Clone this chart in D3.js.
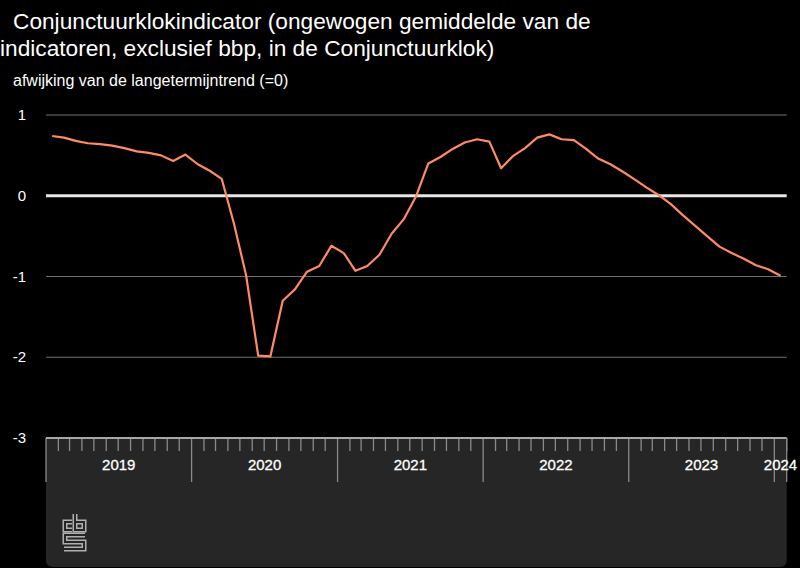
<!DOCTYPE html>
<html><head><meta charset="utf-8">
<script src="https://cdn.jsdelivr.net/npm/d3@7"></script>
<style>
html,body{margin:0;padding:0;background:#000;}
svg{display:block;font-family:"Liberation Sans",Arial,sans-serif;}
</style></head>
<body>
<svg id="chart" width="800" height="568"></svg>
<script>
// ---- data ----
const titleLines = ["Conjunctuurklokindicator (ongewogen gemiddelde van de", "indicatoren, exclusief bbp, in de Conjunctuurklok)"];
const yAxisTitle = "afwijking van de langetermijntrend (=0)";
const months = [
 "2019-01","2019-02","2019-03","2019-04","2019-05","2019-06","2019-07","2019-08","2019-09","2019-10","2019-11","2019-12",
 "2020-01","2020-02","2020-03","2020-04","2020-05","2020-06","2020-07","2020-08","2020-09","2020-10","2020-11","2020-12",
 "2021-01","2021-02","2021-03","2021-04","2021-05","2021-06","2021-07","2021-08","2021-09","2021-10","2021-11","2021-12",
 "2022-01","2022-02","2022-03","2022-04","2022-05","2022-06","2022-07","2022-08","2022-09","2022-10","2022-11","2022-12",
 "2023-01","2023-02","2023-03","2023-04","2023-05","2023-06","2023-07","2023-08","2023-09","2023-10","2023-11","2023-12",
 "2024-01"];
const values = [
 0.74, 0.72, 0.68, 0.65, 0.64, 0.62, 0.59, 0.55, 0.53, 0.50, 0.43, 0.51,
 0.39, 0.31, 0.21, -0.34, -0.98, -1.98, -1.99, -1.30, -1.16, -0.94, -0.87, -0.62,
 -0.71, -0.93, -0.87, -0.73, -0.47, -0.29, -0.01, 0.40, 0.48, 0.58, 0.66, 0.70,
 0.67, 0.34, 0.49, 0.59, 0.72, 0.76, 0.70, 0.69, 0.58, 0.46, 0.39, 0.30,
 0.20, 0.10, 0.01, -0.10, -0.24, -0.37, -0.50, -0.63, -0.71, -0.78, -0.86, -0.91,
 -0.99];
const yTicks = [1, 0, -1, -2, -3];
const yearLabels = ["2019","2020","2021","2022","2023","2024"];
const domainStart = "2019-01";
const domainEnd = "2024-02";

// ---- layout ----
const svg = d3.select("#chart");
const plotL = 46, plotR = 786.7, plotT = 115, plotB = 438;
const parse = d3.timeParse("%Y-%m");
const x = d3.scaleTime().domain([parse(domainStart), parse(domainEnd)]).range([plotL, plotR]);
const y = d3.scaleLinear().domain([-3, 1]).range([plotB, plotT]);

const data = months.map((m, i) => {
  const s = parse(m), e = d3.timeMonth.offset(s, 1);
  return {date: new Date((+s + +e) / 2), value: values[i]};
});

// title
svg.append("g").selectAll("text").data(titleLines).join("text")
  .attr("x", (d, i) => i === 0 ? 13 : 0)
  .attr("y", (d, i) => 29 + i * 26.5)
  .attr("fill", "#fff").attr("font-size", 22.7).text(d => d);
svg.append("text").attr("x", 13).attr("y", 86).attr("fill", "#fff")
  .attr("font-size", 16).text(yAxisTitle);

// x panel
const pb = 567, rr = 7;
svg.append("path")
  .attr("d", `M${plotL},${plotB} H${plotR} V${pb - rr} Q${plotR},${pb} ${plotR - rr},${pb} H${plotL + rr} Q${plotL},${pb} ${plotL},${pb - rr} Z`)
  .attr("fill", "#262626");

// gridlines
const grid = svg.append("g");
grid.selectAll("line").data(yTicks.filter(t => t !== -3)).join("line")
  .attr("x1", plotL).attr("x2", plotR)
  .attr("y1", d => y(d)).attr("y2", d => y(d))
  .attr("stroke", d => d === 0 ? "#e6e6e6" : "#707070")
  .attr("stroke-width", d => d === 0 ? 3 : 1);

// y axis labels
svg.append("g").selectAll("text").data(yTicks).join("text")
  .attr("x", 26).attr("y", d => y(d) + 5)
  .attr("text-anchor", "end").attr("fill", "#fff").attr("font-size", 15)
  .text(d => String(d));

// x axis: top line, month ticks, year ticks
const ax = svg.append("g");
const monthTicks = d3.timeMonth.range(parse(domainStart), d3.timeMonth.offset(parse(domainEnd), 1));
ax.selectAll("line.m").data(monthTicks.filter(d => d.getMonth() !== 0)).join("line")
  .attr("class", "m")
  .attr("x1", d => x(d)).attr("x2", d => x(d))
  .attr("y1", plotB).attr("y2", plotB + 13)
  .attr("stroke", "#8a8a8a").attr("stroke-width", 1.3);
const yearTicks = d3.timeYear.range(parse(domainStart), d3.timeMonth.offset(parse(domainEnd), 1));
ax.selectAll("line.y").data(yearTicks).join("line")
  .attr("class", "y")
  .attr("x1", d => x(d)).attr("x2", d => x(d))
  .attr("y1", plotB).attr("y2", plotB + 44)
  .attr("stroke", "#8a8a8a").attr("stroke-width", 1.3);
ax.append("line").attr("x1", plotR).attr("x2", plotR)
  .attr("y1", plotB).attr("y2", plotB + 44)
  .attr("stroke", "#8a8a8a").attr("stroke-width", 1.3);
ax.append("line").attr("x1", plotL).attr("x2", plotR)
  .attr("y1", plotB).attr("y2", plotB)
  .attr("stroke", "#a8a8a8").attr("stroke-width", 2);
ax.selectAll("text").data(yearLabels).join("text")
  .attr("x", d => {
    const s = d3.max([parse(d + "-01"), parse(domainStart)]);
    const e = d3.min([parse((+d + 1) + "-01"), parse(domainEnd)]);
    return (x(s) + x(e)) / 2;
  })
  .attr("y", 470).attr("text-anchor", "middle")
  .attr("fill", "#fff").attr("font-size", 15).attr("stroke", "#fff").attr("stroke-width", 0.3)
  .text(d => d);

// line
svg.append("path").datum(data)
  .attr("fill", "none").attr("stroke", "#ff8a66").attr("stroke-width", 2.2)
  .attr("stroke-linejoin", "round")
  .attr("d", d3.line().x(d => x(d.date)).y(d => y(d.value)));

// cbs logo
const logo = svg.append("g").attr("fill", "none").attr("stroke-linejoin", "miter");
const logoPaths = [
  "M72,522 H65 V530 H72",
  "M75,514 V530 H84 V522 H75",
  "M85,535 H65 V542 H84 V549 H64"
];
logo.selectAll("path.o").data(logoPaths).join("path").attr("class","o")
  .attr("d", d => d).attr("stroke", "#b0b0b0").attr("stroke-width", 5);
logo.selectAll("path.i").data(logoPaths).join("path").attr("class","i")
  .attr("d", d => d).attr("stroke", "#262626").attr("stroke-width", 2);
</script>
</body></html>
